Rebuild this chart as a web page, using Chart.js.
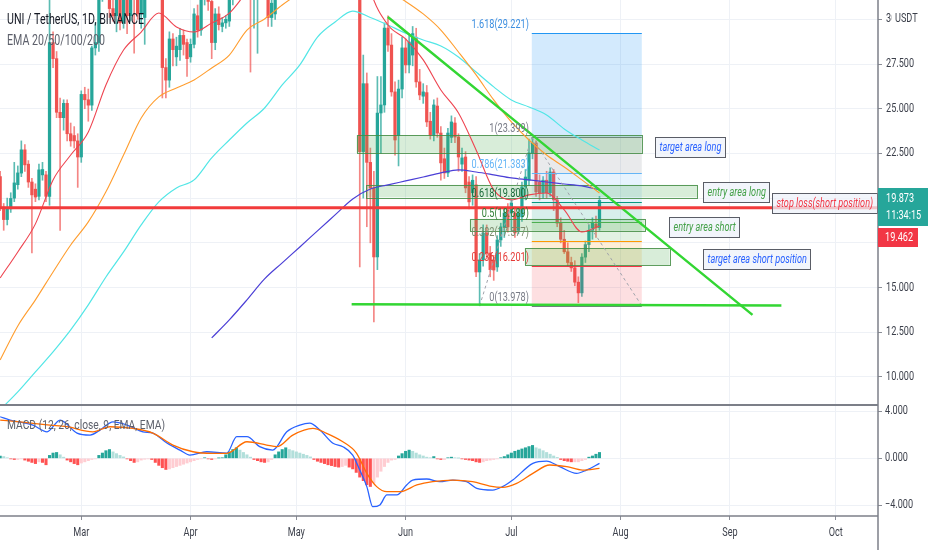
<!DOCTYPE html>
<html>
<head>
<meta charset="utf-8">
<title>UNI / TetherUS, 1D, BINANCE</title>
<script src="https://cdn.jsdelivr.net/npm/chart.js@4.4.1/dist/chart.umd.min.js"></script>
<style>
  body { margin: 0; background: #ffffff; }
  canvas { display: block; }
</style>
</head>
<body>
<canvas id="chart" width="932" height="550"></canvas>
<script>
// day numbers count from 1 Mar 2021 (= day 0); the first candle is day -23
const firstDay = -23;

// daily candles, rows of ten
const opens = [
  21.2, 19.5, 18.8, 19.4, 20.0, 20.75, 21.4, 22.7, 21.9, 20.9,
  20.5, 20.1, 21.3, 21.3, 20.1, 28.7, 27.8, 24.8, 24.5, 25.3,
  23.6, 23.5, 23.2, 22.3, 25.8, 25.5, 25.2, 28.4, 28.7, 31.5,
  33.2, 31.8, 30.6, 30.2, 31.4, 29.8, 31.6, 30.2, 32.1, 31.2,
  30.3, 30.1, 31.5, 33.0, 33.6, 32.0, 32.5, 27.3, 26.6, 28.9,
  27.9, 28.3, 29.1, 28.7, 27.9, 28.6, 30.2, 29.4, 31.3, 32.0,
  31.0, 28.7, 30.3, 29.6, 29.8, 29.9, 31.1, 32.5, 33.8, 35.0,
  34.0, 33.0, 31.7, 31.3, 32.8, 34.5, 33.0, 30.1, 30.3, 32.5,
  34.5, 36.0, 35.0, 38.0, 40.5, 39.0, 41.0, 43.5, 41.5, 40.0,
  37.5, 39.5, 36.5, 37.5, 39.0, 35.0, 36.0, 37.5, 35.5, 36.5,
  34.0, 35.0, 32.5, 22.6, 26.4, 22.0, 20.57, 16.71, 24.76, 25.21,
  29.51, 28.56, 25.94, 23.5, 26.1, 28.4, 27.45, 28.0, 29.0, 26.5,
  25.7, 25.9, 24.3, 23.53, 25.15, 23.64, 22.2, 21.41, 23.4, 24.2,
  23.42, 21.9, 22.3, 20.9, 20.3, 20.74, 15.87, 16.54, 18.05, 16.93,
  16.54, 16.15, 17.66, 18.39, 19.34, 19.17, 19.17, 18.2, 18.95, 20.63,
  21.0, 22.53, 23.08, 20.9, 20.3, 21.0, 20.3, 21.46, 19.9, 18.6,
  17.7, 17.0, 16.4, 16.1, 15.3, 14.7, 16.7, 17.4, 18.2, 18.55,
  18.35
];
const highs = [
  21.5, 19.7, 20.0, 20.3, 22.0, 21.8, 23.2, 23.0, 22.1, 21.1,
  20.8, 21.9, 22.0, 21.5, 31.5, 29.3, 28.2, 25.6, 25.5, 25.5,
  24.2, 24.0, 23.6, 26.0, 26.2, 26.1, 28.5, 29.8, 31.8, 33.6,
  33.9, 32.4, 31.2, 31.8, 31.9, 32.0, 32.3, 32.5, 32.8, 32.0,
  31.6, 31.8, 33.5, 34.2, 34.0, 33.5, 33.0, 27.8, 29.3, 29.2,
  29.0, 29.5, 29.4, 28.9, 28.9, 30.6, 30.8, 31.5, 32.4, 32.6,
  31.5, 30.6, 30.7, 30.1, 30.2, 31.5, 33.0, 34.2, 35.5, 36.0,
  35.0, 33.8, 33.0, 33.0, 35.0, 35.0, 33.5, 31.4, 32.8, 35.0,
  36.5, 37.0, 38.5, 41.0, 42.0, 41.5, 44.5, 44.0, 42.5, 41.0,
  40.0, 40.5, 38.0, 40.0, 39.5, 37.0, 38.5, 38.0, 37.5, 37.0,
  35.5, 35.5, 33.0, 28.0, 27.0, 22.8, 21.5, 26.8, 26.8, 29.8,
  30.2, 29.2, 26.5, 26.6, 29.0, 28.9, 29.2, 29.6, 29.5, 27.2,
  26.4, 26.3, 24.8, 25.5, 25.6, 24.0, 22.8, 23.9, 24.6, 24.5,
  23.6, 22.8, 22.6, 21.2, 21.3, 21.2, 16.9, 18.5, 18.5, 17.3,
  16.8, 17.9, 18.6, 19.4, 19.7, 19.9, 19.5, 19.4, 20.9, 21.6,
  23.3, 23.399, 23.2, 21.3, 21.2, 21.5, 21.7, 21.6, 20.1, 18.9,
  18.2, 17.5, 16.7, 16.5, 15.6, 16.9, 17.6, 18.5, 18.9, 19.0,
  20.1
];
const lows = [
  19.3, 18.2, 18.5, 19.2, 19.8, 20.5, 21.2, 21.5, 20.6, 16.94,
  19.8, 19.9, 21.0, 19.8, 19.6, 27.3, 24.5, 18.2, 23.8, 23.2,
  22.9, 22.8, 20.6, 22.0, 25.0, 24.3, 24.9, 28.0, 28.2, 31.0,
  31.4, 30.1, 29.9, 29.3, 29.4, 29.5, 29.2, 29.9, 28.1, 30.0,
  29.5, 28.6, 31.1, 32.0, 31.5, 31.4, 25.6, 25.6, 26.2, 27.4,
  27.4, 27.7, 28.0, 26.8, 27.6, 28.4, 29.0, 29.1, 30.8, 30.5,
  27.8, 28.3, 29.4, 29.3, 29.5, 29.6, 30.8, 32.0, 33.2, 33.5,
  32.0, 27.05, 29.5, 28.1, 32.3, 32.5, 29.6, 29.6, 30.0, 32.0,
  34.0, 34.5, 34.8, 37.5, 38.0, 38.5, 40.0, 40.5, 39.0, 36.5,
  37.0, 36.0, 35.0, 37.0, 34.0, 33.5, 35.5, 35.0, 35.0, 33.5,
  32.5, 32.0, 16.15, 20.0, 18.4, 17.5, 13.08, 16.0, 22.5, 24.8,
  28.2, 25.7, 22.4, 21.8, 25.6, 27.0, 27.0, 27.4, 26.2, 25.5,
  25.3, 24.0, 23.3, 23.2, 23.4, 21.0, 21.1, 21.2, 23.1, 23.1,
  21.5, 21.5, 20.3, 19.4, 19.6, 15.6, 13.978, 16.2, 16.6, 15.6,
  15.4, 15.9, 17.3, 17.8, 18.1, 18.2, 17.8, 18.0, 18.7, 19.9,
  20.7, 22.2, 20.1, 19.9, 20.0, 20.0, 20.1, 19.3, 18.4, 17.5,
  16.9, 16.2, 15.9, 15.1, 14.15, 14.5, 16.4, 17.0, 17.7, 17.8,
  18.2
];
const closes = [
  19.5, 18.8, 19.4, 19.98, 20.85, 21.41, 22.7, 21.86, 20.9, 20.18,
  20.06, 21.58, 21.6, 20.1, 28.7, 27.8, 24.8, 24.5, 25.3, 23.6,
  23.2, 23.2, 22.3, 25.8, 25.5, 25.2, 28.4, 28.7, 31.5, 33.2,
  31.8, 30.6, 30.2, 31.4, 29.8, 31.6, 30.2, 32.1, 31.2, 30.3,
  31.3, 31.5, 33.0, 33.6, 32.0, 32.5, 27.3, 26.6, 28.9, 28.3,
  28.5, 29.1, 28.6, 27.8, 28.6, 30.3, 29.4, 31.3, 32.0, 31.0,
  28.7, 30.3, 29.7, 29.8, 30.0, 31.1, 32.5, 33.8, 35.0, 34.0,
  33.0, 31.7, 32.5, 32.8, 34.5, 33.0, 30.1, 30.9, 32.5, 34.5,
  36.0, 35.0, 38.0, 40.5, 39.0, 41.0, 43.5, 41.5, 40.0, 37.5,
  39.5, 36.5, 37.5, 39.0, 35.0, 36.0, 37.5, 35.5, 36.5, 34.0,
  35.0, 32.5, 22.6, 26.4, 22.0, 20.57, 16.71, 24.76, 25.21, 29.51,
  28.56, 25.94, 23.25, 26.1, 28.4, 27.45, 28.73, 29.2, 26.5, 25.77,
  25.94, 24.26, 23.53, 25.21, 23.64, 21.97, 21.41, 23.64, 24.26, 23.42,
  22.3, 22.25, 20.57, 19.79, 21.0, 15.87, 16.54, 18.05, 16.93, 16.0,
  15.98, 17.66, 18.39, 19.17, 18.39, 19.73, 18.05, 19.17, 20.63, 21.18,
  22.53, 23.08, 20.35, 20.3, 21.0, 20.3, 21.46, 19.9, 18.6, 17.7,
  17.0, 16.4, 16.1, 15.3, 14.7, 16.7, 17.4, 18.2, 18.6, 18.35,
  19.873
];

// moving averages, read every five days
const emaDays = [-23, -18, -13, -8, -3, 2, 7, 12, 17, 22, 27, 32, 37, 42, 47, 52, 57, 62,
  67, 72, 77, 82, 87, 92, 97, 102, 107, 112, 117, 122, 127, 132, 137, 142, 147];
const ema20 = [15.54, 16.99, 18.56, 21.02, 22.41, 23.7, 26.33, 28.28, 29.29, 30.35, 29.57, 29.29,
  29.79, 30.35, 31.53, 32.5, 34.0, 35.5, 36.8, 37.0, 36.2, 31.64, 29.68, 28.9, 27.73, 26.05,
  24.76, 22.69, 20.46, 19.9, 20.18, 20.29, 19.34, 18.11, 18.44];
const ema50 = [10.95, 12.85, 14.31, 15.87, 17.38, 18.67, 20.35, 22.41, 24.48, 25.66, 26.16, 26.61,
  27.28, 28.0, 29.4, 30.02, 30.8, 31.5, 32.2, 32.7, 32.9, 32.4, 31.6, 31.0, 30.3, 29.4,
  28.17, 26.89, 25.49, 24.26, 23.25, 22.41, 21.74, 21.02, 20.29];
const ema100 = [8.16, 9.16, 10.28, 11.4, 12.63, 14.03, 15.59, 16.99, 18.5, 19.79, 20.57, 21.02,
  22.25, 23.25, 24.2, 25.04, 26.33, 27.45, 29.01, 29.85, 30.46, 30.1, 29.68, 29.23, 28.84,
  28.51, 27.89, 27.05, 26.22, 25.49, 25.1, 24.65, 23.87, 23.25, 22.69];
const ema200 = [null, null, null, null, null, null, null, null, null, null, null, null,
  12.18, 13.19, 14.31, 15.48, 16.38, 17.27, 18.17, 19.06, 19.95, 20.51, 20.74, 20.96, 21.18,
  21.41, 21.58, 21.46, 21.3, 21.13, 21.02, 20.9, 20.79, 20.68, 20.46];

// MACD (12, 26, 9)
const macdDays = [-23, -20.2, -13.7, -9.7, -6, -1.2, 2.5, 5.3, 9, 13, 17.5, 20.3, 24.3, 28, 30.8,
  35.6, 41.3, 44.1, 47, 50.6, 54.3, 58.3, 62, 64.8, 67.7, 71.4, 74.2, 77, 79, 81, 82.7, 84.7,
  86.7, 89.5, 92.3, 94, 98, 101.7, 105.4, 109.3, 112.2, 116.7, 119.5, 122.4, 128.1, 132,
  135.7, 140.5, 143.3, 147];
const macdLine = [3.54, 3.26, 2.83, 2.26, 3.26, 2.15, 1.98, 2.4, 3.1, 2.83, 2.26, 2.15, 1.3, 0.7,
  0.28, 0.56, 0.45, 1.84, 1.84, 0.99, 0.7, 2.26, 2.83, 3.0, 2.41, 1.28, 0.99, 0.28, -1.0,
  -2.41, -4.12, -3.97, -3.12, -3.12, -2.27, -1.85, -1.76, -1.99, -1.85, -1.99, -2.55, -2.7,
  -2.41, -1.85, -0.43, -0.23, -0.71, -1.28, -1.0, -0.43];
const signalDays = [-23, -17.4, -8.9, -4.1, 3.3, 8.1, 14.7, 20.3, 26, 31.7, 37.3, 41.3, 47, 52.6,
  55.5, 60, 65.7, 69.6, 74.2, 78.1, 81, 83.8, 86.7, 90.4, 95.2, 99.7, 105.4, 111, 115.9,
  119.5, 123.5, 128.1, 132.9, 137.7, 142.2, 147];
const signalLine = [3.26, 3.1, 2.83, 2.69, 2.26, 2.69, 2.55, 2.15, 1.13, 0.56, 0.42, 0.42, 1.41,
  1.13, 0.99, 1.98, 2.55, 2.13, 1.41, 0.43, -1.28, -2.41, -2.84, -2.84, -2.27, -1.99, -1.85,
  -1.99, -2.36, -2.47, -2.13, -1.28, -0.57, -0.71, -1.0, -0.85];
const macdHist = [
  0.2, 0.15, 0.05, -0.05, -0.1, -0.1, -0.05, -0.15, -0.25, -0.35,
  -0.45, -0.3, -0.35, -0.55, 0.25, 0.45, 0.5, 0.3, 0.1, -0.15,
  -0.3, -0.45, -0.55, -0.4, -0.3, -0.2, -0.1, -0.05, 0.25, 0.45,
  0.65, 0.75, 0.55, 0.4, 0.25, 0.12, -0.05, -0.2, -0.35, -0.3,
  -0.15, -0.08, -0.05, -0.1, -0.35, -0.6, -0.8, -0.95, -0.9, -0.8,
  -0.7, -0.6, -0.5, -0.4, -0.3, -0.2, -0.1, -0.05, 0.05, -0.05,
  -0.1, -0.05, 0.03, 0.05, 0.3, 0.55, 0.75, 0.9, 0.7, 0.5,
  0.3, 0.1, -0.1, -0.2, -0.3, -0.35, -0.3, -0.1, 0.3, 0.55,
  0.75, 0.9, 0.75, 0.65, 0.55, 0.45, 0.35, 0.25, 0.12, -0.1,
  -0.25, -0.35, -0.45, -0.55, -0.62, -0.7, -0.75, -0.7, -0.6, -0.75,
  -0.9, -1.2, -1.6, -1.9, -2.25, -2.4, -2.1, -1.6, -1.1, -0.7,
  -0.35, -0.15, -0.1, 0.2, 0.4, 0.6, 0.7, 0.6, 0.45, 0.3,
  0.2, 0.1, 0.05, 0.15, -0.05, -0.1, -0.1, 0.05, 0.1, 0.05,
  0.02, -0.05, -0.1, -0.15, -0.2, -0.3, -0.35, -0.3, -0.2, -0.15,
  -0.1, -0.05, 0.05, 0.15, 0.3, 0.45, 0.6, 0.7, 0.8, 0.9,
  1.0, 1.1, 0.9, 0.8, 0.65, 0.5, 0.35, 0.2, 0.08, -0.1,
  -0.2, -0.25, -0.3, -0.3, -0.3, -0.2, -0.1, 0.1, 0.2, 0.35,
  0.5
];

// drawings on the chart
const stopPrice = 19.462;
const trendDays = [86.96, 190.4];
const trendPrices = [30.13, 13.47];
const supportDays = [76.7, 198.6];
const supportPrices = [14.07, 14.0];
const fibLevels = [0, 0.236, 0.382, 0.5, 0.618, 0.786, 1, 1.618];
const fibPrices = [13.978, 16.201, 17.577, 18.689, 19.800, 21.383, 23.399, 29.221];
const fibSpan = [127.8, 159.0];
const fibSwingDays = [113.0, 127.8];
const zoneStart = [78.1, 80.9, 110.2, 125.8];
const zoneEnd = [159.0, 174.8, 159.8, 166.9];
const zoneTop = [23.53, 20.74, 18.84, 17.21];
const zoneBottom = [22.53, 20.04, 18.17, 16.26];
const noteTexts = ['target area long', 'entry area long', 'stop loss(short position)',
  'entry area short', 'target area short position'];
const noteDays = [162.7, 176.5, 195.8, 166.6, 176.5];
const notePrices = [22.86, 20.35, 19.73, 18.39, 16.6];

// axes
const monthDays = [0, 31, 61, 92, 122, 153, 184, 214];
const monthLabels = ['Mar', 'Apr', 'May', 'Jun', 'Jul', 'Aug', 'Sep', 'Oct'];
const priceTicks = [10, 12.5, 15, 17.5, 20, 22.5, 25, 27.5, 30];
const macdTicks = [-4, 0, 4];

// ---- styles ----
const UP = '#26a69a', DOWN = '#ef5350';
const GRID = '#eef1f6', AXIS = '#8b8e97', TEXT = '#3b3f4a';
const FONT = 'Roboto, "Noto Sans", sans-serif';
const SQ = 0.76; // the reference's text is narrow
const fibColors = ['#787b86', '#f23645', '#ff9800', '#4caf50', '#089981', '#64b5f6', '#787b86', '#2196f3'];
const fibTextColors = ['#787b86', '#e53935', '#7a8c6e', '#2e7d32', '#1b6b3a', '#64b5f6', '#787b86', '#3d8fe0'];
const noteColors = ['#2962ff', '#43a047', '#f23645', '#43a047', '#2962ff'];

const dayOf = i => firstDay + i;
const candleBodies = opens.map((o, i) => ({ x: dayOf(i), y: [o, closes[i]] }));
const candleWicks = lows.map((l, i) => ({ x: dayOf(i), y: [l, highs[i]] }));
const bodyColors = opens.map((o, i) => closes[i] >= o ? UP : DOWN);
const wickColors = opens.map((o, i) => closes[i] >= o ? 'rgba(38,166,154,0.75)' : 'rgba(239,83,80,0.7)');
const histBars = macdHist.map((v, i) => ({ x: dayOf(i), y: v }));
const histColors = macdHist.map((v, i) => {
  const prev = i ? macdHist[i - 1] : v;
  if (v >= 0) return v >= prev ? '#26a69a' : '#b2dfdb';
  return v < prev ? '#ff5252' : '#ffcdd2';
});

function line(label, days, vals, color, axis, width, order, extra) {
  return Object.assign({
    type: 'line', label: label, yAxisID: axis, order: order,
    data: days.map((d, i) => ({ x: d, y: vals[i] })).filter(p => p.y !== null),
    borderColor: color, borderWidth: width, pointRadius: 0,
    cubicInterpolationMode: 'monotone', fill: false
  }, extra || {});
}

function text(ctx, s, x, y, size, color, align, style) {
  ctx.font = (style ? style + ' ' : '') + size + 'px ' + FONT;
  const w = ctx.measureText(s).width * SQ;
  let left = x;
  if (align === 'right') left = x - w;
  else if (align === 'center') left = x - w / 2;
  ctx.textAlign = 'left';
  ctx.textBaseline = 'middle';
  ctx.fillStyle = color;
  ctx.fillText(s, left, y, w);
  return w;
}

function hexA(hex, a) {
  const n = parseInt(hex.slice(1), 16);
  return 'rgba(' + (n >> 16) + ',' + ((n >> 8) & 255) + ',' + (n & 255) + ',' + a + ')';
}

function drawZones(chart) {
  const { ctx, chartArea: a } = chart;
  const x = chart.scales.x, y = chart.scales.y;
  ctx.save();
  ctx.beginPath();
  ctx.rect(a.left, y.top, a.right - a.left, y.bottom - y.top);
  ctx.clip();
  const xl = x.getPixelForValue(fibSpan[0]), xr = x.getPixelForValue(fibSpan[1]);
  for (let i = 1; i < fibPrices.length; i++) {
    const y1 = y.getPixelForValue(fibPrices[i - 1]), y2 = y.getPixelForValue(fibPrices[i]);
    ctx.fillStyle = hexA(fibColors[i], i === fibPrices.length - 1 ? 0.2 : 0.16);
    ctx.fillRect(xl, y2, xr - xl, y1 - y2);
  }
  fibPrices.forEach((p, i) => {
    const yy = Math.round(y.getPixelForValue(p)) + 0.5;
    ctx.strokeStyle = fibColors[i];
    ctx.lineWidth = 1;
    ctx.beginPath(); ctx.moveTo(xl, yy); ctx.lineTo(xr, yy); ctx.stroke();
  });
  zoneStart.forEach((d, i) => {
    const x1 = x.getPixelForValue(d), x2 = x.getPixelForValue(zoneEnd[i]);
    const y1 = y.getPixelForValue(zoneTop[i]), y2 = y.getPixelForValue(zoneBottom[i]);
    ctx.fillStyle = 'rgba(76,175,80,0.22)';
    ctx.fillRect(x1, y1, x2 - x1, y2 - y1);
    ctx.strokeStyle = 'rgba(67,140,67,0.85)';
    ctx.lineWidth = 1;
    ctx.strokeRect(Math.round(x1) + 0.5, Math.round(y1) + 0.5, Math.round(x2 - x1), Math.round(y2 - y1));
  });
  ctx.restore();
}

function drawLabels(chart) {
  const { ctx } = chart;
  const x = chart.scales.x, y = chart.scales.y;
  ctx.save();
  const xl = x.getPixelForValue(fibSpan[0]);
  fibPrices.forEach((p, i) => {
    text(ctx, fibLevels[i] + '(' + p.toFixed(3) + ')', xl - 3, y.getPixelForValue(p) - 8, 12, fibTextColors[i], 'right');
  });
  noteTexts.forEach((s, i) => {
    ctx.font = 'italic 12px ' + FONT;
    const w = ctx.measureText(s).width * SQ;
    const left = Math.round(x.getPixelForValue(noteDays[i])) + 0.5;
    const mid = Math.round(y.getPixelForValue(notePrices[i]));
    ctx.fillStyle = 'rgba(238,242,250,0.75)';
    ctx.fillRect(left, mid - 10, w + 8, 20);
    ctx.strokeStyle = '#5a5d66';
    ctx.lineWidth = 1;
    ctx.strokeRect(left, mid - 9.5, Math.round(w + 8), 20);
    text(ctx, s, left + 4, mid + 0.5, 12, noteColors[i], 'left', 'italic');
  });
  ctx.restore();
}

function drawOverlay(chart) {
  const { ctx, chartArea: a } = chart;
  const x = chart.scales.x, y = chart.scales.y, y2 = chart.scales.y2;
  const H = chart.height;
  ctx.save();
  ctx.strokeStyle = '#7c7f88';
  ctx.lineWidth = 2;
  ctx.beginPath(); ctx.moveTo(0, y.bottom); ctx.lineTo(a.right, y.bottom); ctx.stroke();
  ctx.lineWidth = 1.5;
  ctx.beginPath(); ctx.moveTo(0, a.bottom); ctx.lineTo(a.right, a.bottom); ctx.stroke();
  ctx.beginPath(); ctx.moveTo(a.right, 0); ctx.lineTo(a.right, H); ctx.stroke();

  priceTicks.forEach(v => text(ctx, v.toFixed(3), a.right + 8, y.getPixelForValue(v), 12, TEXT, 'left'));
  macdTicks.forEach(v => text(ctx, (v < 0 ? '\u2212' : '') + Math.abs(v).toFixed(3), a.right + 7,
    y2.getPixelForValue(v), 12, TEXT, 'left'));
  monthDays.forEach((d, i) => text(ctx, monthLabels[i], x.getPixelForValue(d), a.bottom + 17, 12, TEXT, 'center'));

  // currency tag over the top tick
  ctx.fillStyle = '#ffffff';
  ctx.fillRect(a.right + 14, 10, 40, 18);
  text(ctx, 'USDT', a.right + 17, 19, 12, TEXT, 'left');

  // last price and line price tags
  const last = closes[closes.length - 1];
  const gy = Math.round(y.getPixelForValue(last));
  ctx.fillStyle = UP;
  ctx.fillRect(a.right, gy - 12, 50, 38);
  text(ctx, last.toFixed(3), a.right + 8, gy - 1, 12, '#ffffff', 'left');
  text(ctx, '11:34:15', a.right + 8, gy + 16, 12, '#ffffff', 'left');
  ctx.fillStyle = '#f23645';
  ctx.fillRect(a.right, gy + 28, 40, 19);
  text(ctx, stopPrice.toFixed(3), a.right + 7, gy + 37.5, 12, '#ffffff', 'left');

  // legends
  text(ctx, 'UNI / TetherUS, 1D, BINANCE', 7, 20, 14, '#131722', 'left');
  text(ctx, 'EMA 20/50/100/200', 7, 41, 14, '#5d606b', 'left');
  text(ctx, 'MACD (12, 26, close, 9, EMA, EMA)', 7, y2.top + 21, 13.5, '#5d606b', 'left');
  ctx.restore();
}

const panes = {
  id: 'panes',
  beforeDatasetDraw(chart, args) {
    const ds = chart.data.datasets[args.index];
    const s = chart.scales[ds.yAxisID];
    const a = chart.chartArea;
    chart.ctx.save();
    chart.ctx.beginPath();
    chart.ctx.rect(a.left, s.top, a.right - a.left, s.bottom - s.top);
    chart.ctx.clip();
  },
  afterDatasetDraw(chart, args) {
    chart.ctx.restore();
    if (chart.data.datasets[args.index].label === 'candles') drawZones(chart);
  },
  afterDatasetsDraw(chart) { drawLabels(chart); },
  afterDraw(chart) { drawOverlay(chart); }
};

const lastDay = 226.0;
new Chart(document.getElementById('chart'), {
  type: 'bar',
  data: {
    datasets: [
      { type: 'bar', label: 'wicks', yAxisID: 'y', order: 30, data: candleWicks,
        backgroundColor: wickColors, barThickness: 1, grouped: false },
      { type: 'bar', label: 'candles', yAxisID: 'y', order: 29, data: candleBodies,
        backgroundColor: bodyColors, barThickness: 2.6, grouped: false, minBarLength: 1 },
      line('EMA 200', emaDays, ema200, '#4b3fd6', 'y', 1.2, 20),
      line('EMA 100', emaDays, ema100, '#52e6e6', 'y', 1.2, 19),
      line('EMA 50', emaDays, ema50, '#ff9d2e', 'y', 1.1, 18),
      line('EMA 20', emaDays, ema20, '#ee4450', 'y', 1.1, 17),
      line('fib swing', fibSwingDays, [fibPrices[0], fibPrices[6]], '#a0a3ab', 'y', 1, 12,
        { borderDash: [3, 3], cubicInterpolationMode: 'default', tension: 0 }),
      line('fib fall', [fibSwingDays[1], fibSpan[1]], [fibPrices[6], fibPrices[0]], '#a0a3ab', 'y', 1, 11,
        { borderDash: [3, 3], cubicInterpolationMode: 'default', tension: 0 }),
      line('trend', trendDays, trendPrices, '#33d633', 'y', 2.5, 6, { tension: 0 }),
      line('support', supportDays, supportPrices, '#33d633', 'y', 2.5, 5, { tension: 0 }),
      line('stop', [firstDay - 1, lastDay], [stopPrice, stopPrice], '#f23b3b', 'y', 3, 4, { tension: 0 }),
      { type: 'bar', label: 'histogram', yAxisID: 'y2', order: 30, data: histBars,
        backgroundColor: histColors, barThickness: 2.4, grouped: false },
      line('MACD', macdDays, macdLine, '#2962ff', 'y2', 1.3, 2),
      line('Signal', signalDays, signalLine, '#ff6d00', 'y2', 1.3, 1)
    ]
  },
  options: {
    responsive: false,
    animation: false,
    events: [],
    layout: { padding: 0 },
    plugins: { legend: { display: false }, tooltip: { enabled: false }, title: { display: false } },
    scales: {
      x: {
        type: 'linear', min: -23.05, max: lastDay, offset: false,
        afterBuildTicks: s => { s.ticks = monthDays.map(v => ({ value: v })); },
        afterFit: s => { s.height = 34; },
        ticks: { display: false },
        grid: { color: GRID, offset: false, drawTicks: true, tickLength: 4, tickColor: AXIS },
        border: { display: false }
      },
      y: {
        type: 'linear', position: 'right', stack: 'pane', stackWeight: 405,
        min: 8.43, max: 31.08,
        afterBuildTicks: s => { s.ticks = priceTicks.map(v => ({ value: v })); },
        afterFit: s => { s.width = 54; },
        ticks: { display: false },
        grid: { color: GRID, drawTicks: true, tickLength: 4, tickColor: AXIS },
        border: { display: false }
      },
      y2: {
        type: 'linear', position: 'right', stack: 'pane', stackWeight: 111,
        min: -4.91, max: 4.54,
        afterBuildTicks: s => { s.ticks = macdTicks.map(v => ({ value: v })); },
        afterFit: s => { s.width = 54; },
        ticks: { display: false },
        grid: { color: GRID, drawTicks: true, tickLength: 4, tickColor: AXIS },
        border: { display: false }
      }
    }
  },
  plugins: [panes]
});
</script>
</body>
</html>
